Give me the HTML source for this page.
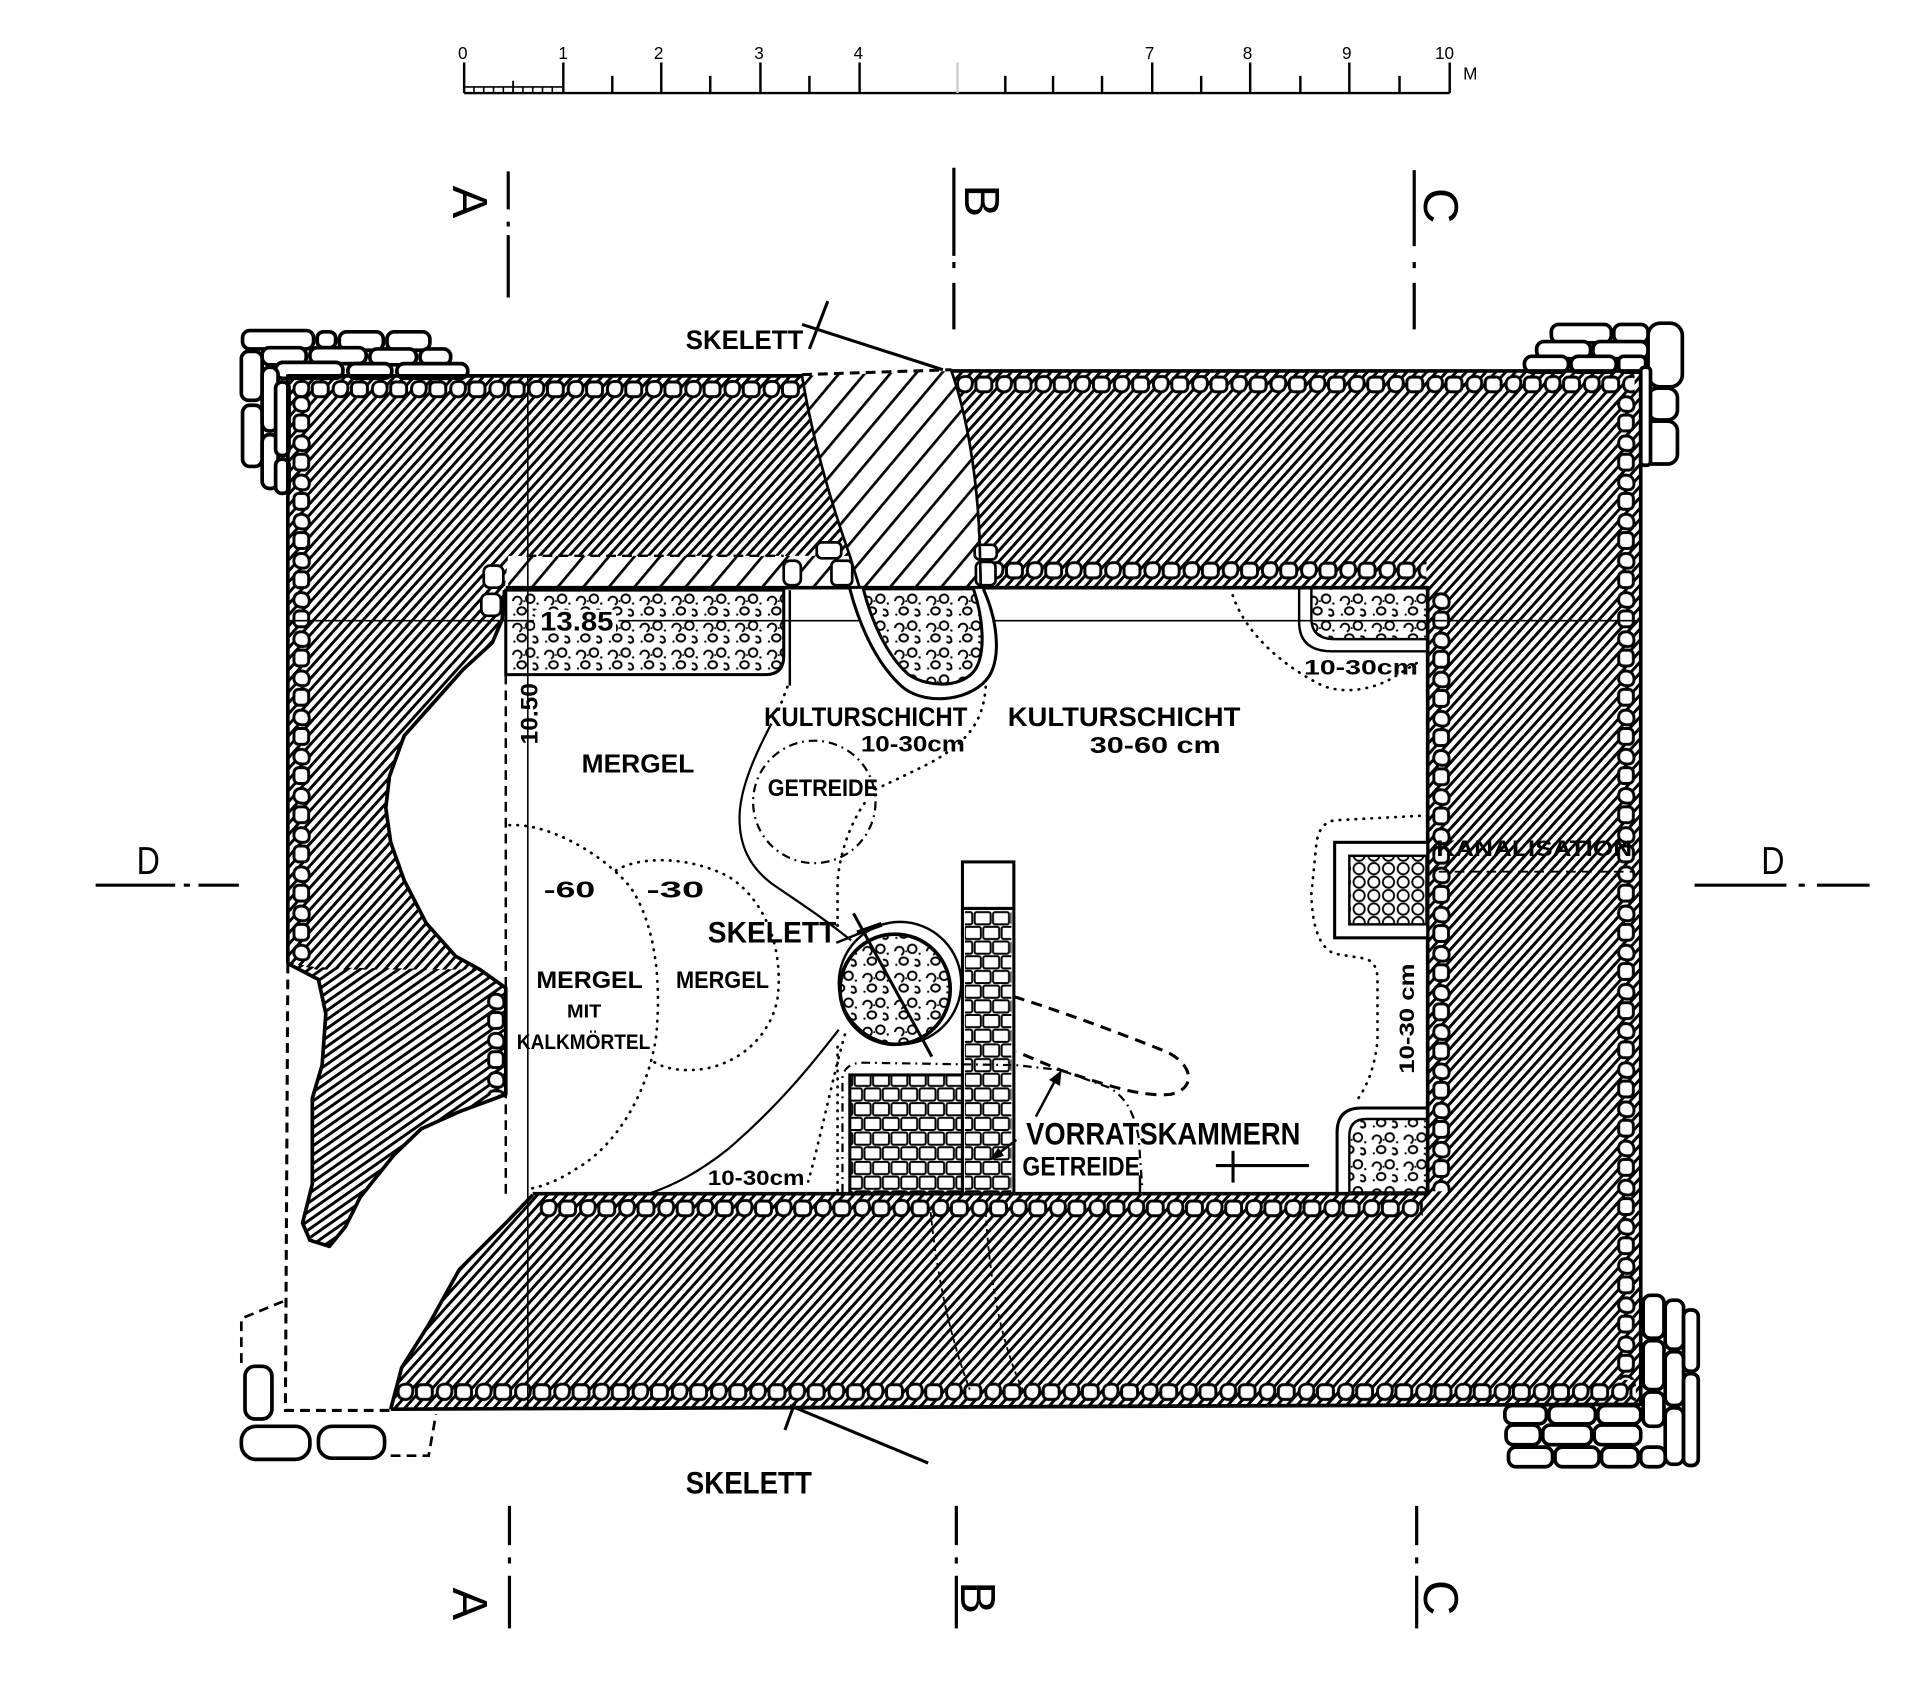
<!DOCTYPE html>
<html><head><meta charset="utf-8"><style>
html,body{margin:0;padding:0;background:#fff;}
svg{display:block;}
text{font-family:"Liberation Sans",sans-serif;fill:#000;}
.b{font-weight:bold;}
</style></head><body>
<svg xmlns="http://www.w3.org/2000/svg" width="1920" height="1692" viewBox="0 0 1568 1382">
<defs>
<pattern id="hd" patternUnits="userSpaceOnUse" width="6" height="20" patternTransform="rotate(42)">
<rect x="0" y="0" width="2.4" height="20" fill="#000"/>
</pattern>
<pattern id="hb" patternUnits="userSpaceOnUse" width="6" height="20" patternTransform="rotate(55)">
<rect x="0" y="0" width="2.4" height="20" fill="#000"/>
</pattern>
<pattern id="hl" patternUnits="userSpaceOnUse" width="16" height="20" patternTransform="rotate(40)">
<rect x="0" y="0" width="2.2" height="20" fill="#000"/>
</pattern>
<pattern id="sh" patternUnits="userSpaceOnUse" width="32" height="20">
<path d="M2,10 C2,4 6,3.5 9,3.5 C13,3.5 14.5,6 14,10 C13.5,15 10,16.5 7,16 C3.5,15.5 2,13.5 2,10 Z" fill="#fff" stroke="#000" stroke-width="2.4"/>
<rect x="17" y="4" width="13" height="12" rx="4" fill="#fff" stroke="#000" stroke-width="2.4"/>
</pattern>
<pattern id="sv" patternUnits="userSpaceOnUse" width="20" height="32">
<path d="M10,2 C15,2 16.5,6 16.5,9 C16.5,13 14,14.5 10,14 C5,13.5 3.5,10 4,7 C4.5,3.5 6.5,2 10,2 Z" fill="#fff" stroke="#000" stroke-width="2.4"/>
<rect x="4" y="17" width="12" height="13" rx="4" fill="#fff" stroke="#000" stroke-width="2.4"/>
</pattern>
<pattern id="rb" patternUnits="userSpaceOnUse" width="26" height="22">
<g fill="none" stroke="#000" stroke-width="1.6">
<path d="M3,7 a3.5,3.5 0 1,1 5,3"/>
<circle cx="17" cy="5" r="3.5"/>
<ellipse cx="10" cy="15" rx="3.5" ry="3"/>
<path d="M19,14 q4,-1 4,4 q-2,2 -4,0"/>
</g>
<circle cx="23" cy="9" r="1" fill="#000"/>
<circle cx="4" cy="18" r="0.9" fill="#000"/>
<circle cx="12" cy="7" r="0.8" fill="#000"/>
</pattern>
<pattern id="cb" patternUnits="userSpaceOnUse" width="12" height="11">
<circle cx="6" cy="5.5" r="4.6" fill="#fff" stroke="#000" stroke-width="1.5"/>
</pattern>
<pattern id="ms" patternUnits="userSpaceOnUse" width="30" height="24">
<g fill="none" stroke="#000" stroke-width="1.6">
<rect x="1" y="1" width="13" height="10" rx="1.5"/>
<rect x="16" y="1" width="13" height="10" rx="1.5"/>
<rect x="-7" y="13" width="13" height="10" rx="1.5"/>
<rect x="8" y="13" width="13" height="10" rx="1.5"/>
<rect x="23" y="13" width="13" height="10" rx="1.5"/>
</g>
</pattern>
</defs>

<rect width="1568" height="1382" fill="#fff"/>

<!-- Scale bar -->
<g stroke="#000" stroke-width="2" fill="none">
<path d="M379,76 L1184,76"/>
<path d="M379,71 L460,71" stroke-width="1.3"/>
<path d="M387,71V76M395,71V76M403,71V76M411,71V76M427,71V76M435,71V76M443,71V76M451,71V76" stroke-width="1.3"/>
<path d="M419,66V76" stroke-width="1.5"/>
<path d="M379,51V76M460,51V76M540,51V76M621,51V76M702,51V76M941,51V76M1021,51V76M1102,51V76M1184,51V76"/>
<path d="M500,62V76M580,62V76M661,62V76M821,62V76M860,62V76M900,62V76M981,62V76M1062,62V76M1143,62V76"/>
<path d="M782,51V76" stroke="#ccc"/>
</g>
<g font-size="14">
<text x="374" y="48">0</text><text x="456" y="48">1</text><text x="534" y="48">2</text>
<text x="616" y="48">3</text><text x="697" y="48">4</text><text x="935" y="48">7</text>
<text x="1015" y="48">8</text><text x="1096" y="48">9</text><text x="1172" y="48">10</text>
<text x="1195" y="65">M</text>
</g>

<!-- Section lines -->
<g stroke="#000" stroke-width="2.6" fill="none">
<path d="M415,140V171M415,181V185M415,192V243"/>
<path d="M779,137V209M779,214V219M779,231V269"/>
<path d="M1155,139V201M1155,214V219M1155,231V269"/>
<path d="M416,1230V1262M416,1272V1277M416,1287V1330"/>
<path d="M781,1230V1262M781,1272V1277M781,1287V1330"/>
<path d="M1157,1230V1262M1157,1272V1277M1157,1287V1330"/>
<path d="M78,723H143M150,723H155M162,723H195"/>
<path d="M1384,723H1459M1469,723H1474M1484,723H1527"/>
</g>
<g font-size="40">
<text transform="translate(384,165) rotate(90)" text-anchor="middle" dy="14">A</text>
<text transform="translate(802,164) rotate(90)" text-anchor="middle" dy="14">B</text>
<text transform="translate(1177,168) rotate(90)" text-anchor="middle" dy="14">C</text>
<text transform="translate(384,1310) rotate(90)" text-anchor="middle" dy="14">A</text>
<text transform="translate(799,1305) rotate(90)" text-anchor="middle" dy="14">B</text>
<text transform="translate(1177,1305) rotate(90)" text-anchor="middle" dy="14">C</text>
</g>
<text x="121" y="714" font-size="32" text-anchor="middle" textLength="19" lengthAdjust="spacingAndGlyphs">D</text>
<text x="1448" y="714" font-size="32" text-anchor="middle" textLength="19" lengthAdjust="spacingAndGlyphs">D</text>

<!-- Corner stone clusters -->
<g fill="#fff" stroke="#000" stroke-width="3">
<!-- top-left -->
<rect x="198" y="270" width="58" height="15" rx="6"/>
<rect x="259" y="271" width="15" height="13" rx="5"/>
<rect x="277" y="271" width="36" height="15" rx="6"/>
<rect x="316" y="271" width="35" height="15" rx="6"/>
<rect x="214" y="284" width="36" height="14" rx="6"/>
<rect x="253" y="284" width="46" height="13" rx="6"/>
<rect x="302" y="285" width="38" height="13" rx="6"/>
<rect x="343" y="285" width="25" height="13" rx="6"/>
<rect x="225" y="296" width="55" height="13" rx="6"/>
<rect x="284" y="297" width="36" height="12" rx="6"/>
<rect x="324" y="297" width="58" height="12" rx="6"/>
<rect x="197" y="287" width="17" height="40" rx="6"/>
<rect x="198" y="331" width="16" height="50" rx="6"/>
<rect x="214" y="300" width="13" height="52" rx="6"/>
<rect x="214" y="355" width="13" height="44" rx="6"/>
<rect x="225" y="312" width="11" height="60" rx="5"/>
<rect x="225" y="375" width="11" height="28" rx="5"/>
<!-- top-right -->
<rect x="1267" y="265" width="49" height="15" rx="6"/>
<rect x="1318" y="265" width="28" height="15" rx="6"/>
<rect x="1255" y="279" width="44" height="14" rx="6"/>
<rect x="1301" y="279" width="45" height="14" rx="6"/>
<rect x="1245" y="291" width="36" height="13" rx="6"/>
<rect x="1283" y="291" width="37" height="13" rx="6"/>
<rect x="1322" y="291" width="22" height="13" rx="4"/>
<rect x="1346" y="264" width="28" height="52" rx="10"/>
<rect x="1346" y="317" width="24" height="26" rx="8"/>
<rect x="1342" y="344" width="28" height="35" rx="8"/>
<rect x="1340" y="300" width="8" height="80" rx="3"/>
<!-- bottom-right -->
<rect x="1342" y="1058" width="17" height="35" rx="6"/>
<rect x="1342" y="1095" width="17" height="40" rx="6"/>
<rect x="1342" y="1137" width="17" height="28" rx="6"/>
<rect x="1360" y="1062" width="15" height="40" rx="6"/>
<rect x="1360" y="1104" width="15" height="44" rx="6"/>
<rect x="1360" y="1150" width="15" height="46" rx="6"/>
<rect x="1375" y="1070" width="12" height="50" rx="5"/>
<rect x="1375" y="1122" width="12" height="75" rx="5"/>
<rect x="1229" y="1148" width="34" height="15" rx="6"/>
<rect x="1265" y="1148" width="38" height="15" rx="6"/>
<rect x="1305" y="1148" width="35" height="15" rx="6"/>
<rect x="1230" y="1164" width="28" height="16" rx="6"/>
<rect x="1260" y="1164" width="40" height="16" rx="6"/>
<rect x="1302" y="1164" width="38" height="16" rx="6"/>
<rect x="1232" y="1182" width="36" height="16" rx="6"/>
<rect x="1270" y="1182" width="36" height="16" rx="6"/>
<rect x="1308" y="1182" width="30" height="16" rx="6"/>
<rect x="1340" y="1182" width="20" height="16" rx="6"/>
<!-- bottom-left -->
<rect x="200" y="1116" width="22" height="43" rx="8"/>
<rect x="197" y="1165" width="56" height="27" rx="12"/>
<rect x="260" y="1165" width="54" height="26" rx="11"/>
</g>
<g fill="none" stroke="#000" stroke-width="2.2" stroke-dasharray="8 5">
<path d="M231,1063 L197,1077 L197,1117"/>
<path d="M319,1189 L350,1189 L356,1155"/>
</g>

<!-- Wall fills -->
<polygon fill="url(#hd)" points="235,307 655,307 660,340 672,385 688,440 693,454 415,454 412,482 410,506 402,525 378,547 354,574 330,601 318,634 315,660 319,688 330,719 348,754 372,781 392,792 258,792 235,786"/>
<polygon fill="url(#hb)" points="235,786 258,790 392,792 413,807 413,894 375,908 344,922 322,943 294,978 282,1002 269,1018 253,1013 247,999 255,967 255,897 263,870 266,828 260,800"/>
<polygon fill="url(#hd)" points="777,303 1340,303 1340,1147 319,1151 328,1117 350,1082 375,1037 413,999 435,976 1166,974 1166,480 800,479 798,420 792,360"/>
<polygon fill="url(#hl)" points="655,307 777,303 792,360 798,420 800,479 415,479 415,454 693,454 688,440 672,385 660,340"/>

<!-- Stone bands along wall faces -->
<g transform="translate(238,308)"><rect width="417" height="20" fill="url(#sh)"/></g>
<g transform="translate(780,304)"><rect width="555" height="20" fill="url(#sh)"/></g>
<g transform="translate(805,456)"><rect width="360" height="20" fill="url(#sh)"/></g>
<g transform="translate(236,322)"><rect width="20" height="463" fill="url(#sv)"/></g>
<g transform="translate(1167,483)"><rect width="20" height="490" fill="url(#sv)"/></g>
<g transform="translate(1318,322)"><rect width="20" height="805" fill="url(#sv)"/></g>
<g transform="translate(440,977)"><rect width="722" height="20" fill="url(#sh)"/></g>
<g transform="translate(323,1127)"><rect width="1013" height="20" fill="url(#sh)"/></g>
<g transform="translate(395,810)"><rect width="18" height="84" fill="url(#sv)"/></g>
<g fill="#fff" stroke="#000" stroke-width="2.2">
<rect x="640" y="458" width="14" height="20" rx="5"/>
<rect x="667" y="443" width="20" height="13" rx="4"/>
<rect x="679" y="458" width="17" height="20" rx="4"/>
<rect x="796" y="445" width="18" height="12" rx="4"/>
<rect x="797" y="459" width="16" height="19" rx="4"/>
<rect x="395" y="462" width="16" height="18" rx="5"/>
<rect x="393" y="485" width="16" height="18" rx="5"/>
</g>

<!-- Wall outlines -->
<g fill="none" stroke="#000" stroke-width="3" stroke-linejoin="round">
<path d="M655,307 L235,307 L235,787"/>
<path d="M777,303 L1340,303 L1340,1147 L319,1151"/>
<path d="M412,482 L410,506 L402,525 L378,547 L354,574 L330,601 L318,634 L315,660 L319,688 L330,719 L348,754 L372,781 L392,792 L413,807 L413,894 L375,908 L344,922 L322,943 L294,978 L282,1002 L269,1018 L253,1013 L247,999 L255,967 L255,897 L263,870 L266,828 L260,800 L235,787"/>
<path d="M435,976 L413,999 L375,1037 L350,1082 L328,1117 L319,1151"/>
<path d="M413,480 L1166,480 L1166,975 L435,975"/>
</g>
<g fill="none" stroke="#000" stroke-width="2.2">
<path d="M655,307 C662,350 675,400 694,454 L702,480"/>
<path d="M777,303 C790,340 798,390 800,440 L801,480"/>
</g>
<g fill="none" stroke="#000" stroke-dasharray="8 5">
<path d="M235,787 L233,1152 L319,1152" stroke-width="2.5"/>
<path d="M655,306 L777,302" stroke-width="2.5"/>
<path d="M430,454 L640,454" stroke-width="2"/>
<path d="M413,551 L413,975" stroke-width="2"/>
<path d="M1175,712 L1335,712" stroke-width="1.5"/>
</g>
<g fill="none" stroke="#000" stroke-width="1.5" stroke-dasharray="4 3">
<path d="M760,990 C765,1040 775,1090 792,1135"/>
<path d="M805,990 C808,1040 815,1090 835,1135"/>
</g>

<!-- Thin construction lines -->
<g stroke="#000" stroke-width="1.3" fill="none">
<path d="M431,307 L431,1152"/>
<path d="M235,507 L436,507 M505,507 L1340,507"/>
</g>

<!-- Room pockets -->
<path d="M413,482 L640,482 L640,536 Q640,551 625,551 L413,551 Z" fill="url(#rb)" stroke="#000" stroke-width="2.5"/>
<path d="M645,482 L645,560" stroke="#000" stroke-width="2" fill="none"/>
<rect x="437" y="498" width="66" height="19" fill="#fff"/>
<text x="441" y="515" font-size="22" class="b" textLength="60" lengthAdjust="spacingAndGlyphs">13.85</text>

<path d="M694,481 C703,515 718,545 738,562 C758,577 795,572 808,552 C818,535 814,505 803,481" fill="#fff" stroke="#000" stroke-width="2.5"/>
<path d="M705,481 C713,512 726,537 742,551 C760,563 788,561 797,546 C805,532 803,505 795,481 Z" fill="url(#rb)" stroke="#000" stroke-width="2.5"/>

<path d="M1061,480 L1061,508 Q1061,532 1088,532 L1166,532" fill="none" stroke="#000" stroke-width="2"/>
<path d="M1071,480 L1071,505 Q1071,522 1090,522 L1166,522 L1166,480 Z" fill="url(#rb)" stroke="#000" stroke-width="2"/>

<rect x="1090" y="688" width="76" height="78" fill="#fff" stroke="#000" stroke-width="2.5"/>
<rect x="1102" y="699" width="63" height="56" fill="url(#cb)" stroke="#000" stroke-width="2"/>

<path d="M1092,974 L1092,925 Q1092,905 1112,905 L1166,905" fill="none" stroke="#000" stroke-width="2.5"/>
<path d="M1102,974 L1102,928 Q1102,914 1116,914 L1166,914 L1166,974 Z" fill="url(#rb)" stroke="#000" stroke-width="2"/>

<!-- Circle pit -->
<circle cx="735" cy="803" r="50" fill="#fff" stroke="#000" stroke-width="2"/>
<circle cx="731" cy="808" r="45" fill="url(#rb)" stroke="#000" stroke-width="3"/>
<path d="M697,746 L761,863" stroke="#000" stroke-width="2.5"/>

<!-- Pier and storage block -->
<rect x="786" y="704" width="42" height="271" fill="#fff" stroke="#000" stroke-width="2.5"/>
<rect x="788" y="744" width="38" height="230" fill="url(#ms)"/>
<path d="M786,742 L828,742" stroke="#000" stroke-width="2.5"/>
<rect x="694" y="878" width="92" height="97" fill="url(#ms)" stroke="#000" stroke-width="2.5"/>

<!-- Dotted boundaries -->
<g fill="none" stroke="#000" stroke-width="2.2" stroke-linecap="round" stroke-dasharray="0.5 6">
<path d="M416,674 C450,672 495,700 515,725 C535,755 540,800 536,845 C530,890 505,935 470,955 C455,965 440,970 432,971"/>
<path d="M503,711 C520,700 560,698 595,716 C625,735 640,775 635,815 C630,845 605,868 575,873 C555,876 540,872 532,866"/>
<path d="M805,561 C803,590 790,606 760,623 C740,633 725,640 712,646"/>
<path d="M706,656 C695,672 686,695 684,720 L684,757"/>
<path d="M684,855 L684,974"/>
<path d="M690,845 C680,880 670,930 660,965"/>
<path d="M1005,480 C1012,510 1040,540 1080,560 C1100,568 1125,562 1140,552 L1158,541"/>
<path d="M1166,666 L1090,670 Q1077,672 1075,690 L1071,730 Q1072,772 1090,779 L1115,783 Q1125,786 1125,800 L1125,850 Q1122,880 1108,899"/>
<path d="M643,561 L634,585"/>
</g>
<g fill="none" stroke="#000" stroke-width="1.8">
<path d="M630,591 C620,610 605,640 604,665 C603,690 612,710 635,725 C660,742 675,752 695,768"/>
<path d="M685,841 C670,860 640,900 594,939 C570,958 550,968 530,975"/>
</g>
<g fill="none" stroke="#000" stroke-width="1.8" stroke-dasharray="7 4 1.5 4">
<circle cx="665" cy="655" r="50"/>
<path d="M688,974 L688,880 Q690,868 705,868 L830,870 L866,874 L905,888 Q925,898 930,930 L933,972"/>
</g>
<path d="M828,814 C860,824 910,842 950,858 C975,868 978,890 955,894 C930,896 900,885 866,874 L830,859" fill="none" stroke="#000" stroke-width="2.5" stroke-dasharray="9 6"/>

<!-- Arrows and marks -->
<g stroke="#000" stroke-width="2" fill="none">
<path d="M846,912 L862,882"/>
<path d="M830,931 L813,944"/>
<path d="M683,770 L720,755"/>
<path d="M700,762 L720,755" stroke-width="4"/>
<path d="M993,952 L1069,952 M1007,940 L1007,966" stroke-width="2.5"/>
<path d="M931,960 L931,974"/>
<path d="M655,265 L770,302" stroke-width="2.5"/>
<path d="M676,246 L661,285" stroke-width="2.5"/>
<path d="M645,1148 L758,1195" stroke-width="2.5"/>
<path d="M649,1146 L641,1168" stroke-width="2.5"/>
</g>
<polygon points="867,874 865.6,886.9 856.8,882.1" fill="#000"/>
<polygon points="808,948 820,944 815.2,937.6" fill="#000"/>

<!-- Labels -->
<g class="b">
<text x="560" y="285" font-size="22" textLength="96" lengthAdjust="spacingAndGlyphs">SKELETT</text>
<text transform="translate(439,583) rotate(-90)" text-anchor="middle" font-size="20" textLength="50" lengthAdjust="spacingAndGlyphs">10.50</text>
<text x="475" y="631" font-size="21" textLength="92" lengthAdjust="spacingAndGlyphs">MERGEL</text>
<text x="624" y="593" font-size="22" textLength="166" lengthAdjust="spacingAndGlyphs">KULTURSCHICHT</text>
<text x="703" y="614" font-size="18" textLength="85" lengthAdjust="spacingAndGlyphs">10-30cm</text>
<text x="823" y="593" font-size="22" textLength="190" lengthAdjust="spacingAndGlyphs">KULTURSCHICHT</text>
<text x="890" y="615" font-size="19" textLength="107" lengthAdjust="spacingAndGlyphs">30-60 cm</text>
<text x="627" y="650" font-size="20" textLength="90" lengthAdjust="spacingAndGlyphs">GETREIDE</text>
<text x="1065" y="551" font-size="17" textLength="93" lengthAdjust="spacingAndGlyphs">10-30cm</text>
<text x="444" y="733" font-size="19" textLength="42" lengthAdjust="spacingAndGlyphs">-60</text>
<text x="528" y="733" font-size="19" textLength="47" lengthAdjust="spacingAndGlyphs">-30</text>
<text x="578" y="770" font-size="24" textLength="105" lengthAdjust="spacingAndGlyphs">SKELETT</text>
<text x="438" y="807" font-size="20" textLength="87" lengthAdjust="spacingAndGlyphs">MERGEL</text>
<text x="463" y="831" font-size="15" textLength="28" lengthAdjust="spacingAndGlyphs">MIT</text>
<text x="422" y="857" font-size="17" textLength="109" lengthAdjust="spacingAndGlyphs">KALKMÖRTEL</text>
<text x="552" y="807" font-size="20" textLength="76" lengthAdjust="spacingAndGlyphs">MERGEL</text>
<text x="578" y="968" font-size="17" textLength="79" lengthAdjust="spacingAndGlyphs">10-30cm</text>
<text x="838" y="935" font-size="26" textLength="224" lengthAdjust="spacingAndGlyphs">VORRATSKAMMERN</text>
<text x="835" y="960" font-size="22" textLength="96" lengthAdjust="spacingAndGlyphs">GETREIDE</text>
<text x="1173" y="699" font-size="18" textLength="160" lengthAdjust="spacingAndGlyphs">KANALISATION</text>
<text transform="translate(1155,832) rotate(-90)" text-anchor="middle" font-size="17" textLength="90" lengthAdjust="spacingAndGlyphs">10-30 cm</text>
<text x="560" y="1220" font-size="26" textLength="103" lengthAdjust="spacingAndGlyphs">SKELETT</text>
</g>
</svg>
</body></html>
